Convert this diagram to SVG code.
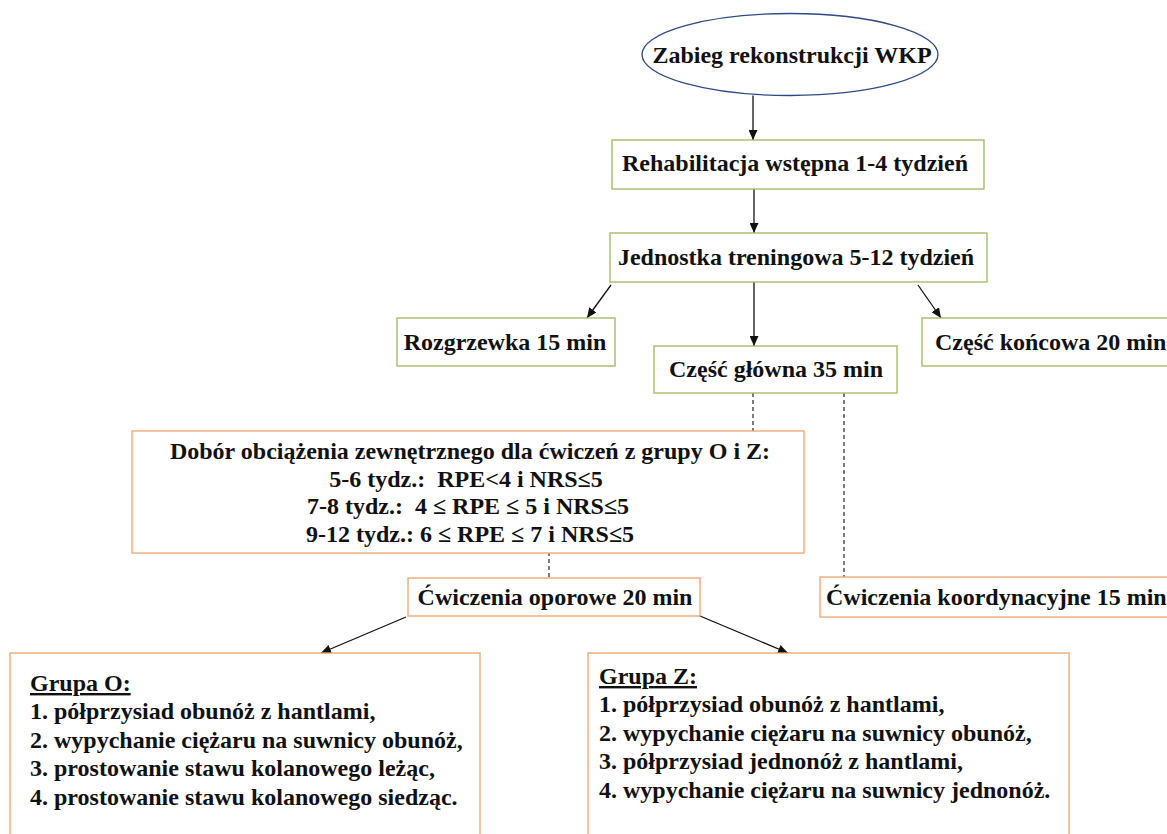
<svg xmlns="http://www.w3.org/2000/svg" width="1167" height="834" viewBox="0 0 1167 834">
<style>
text{font-family:'Liberation Serif','Tinos','Times New Roman','DejaVu Serif',serif;font-weight:bold;font-size:24px;fill:#111}
.g{fill:#fff;stroke:#9bbb59;stroke-width:1.3}
.o{fill:#fff;stroke:#eea36a;stroke-width:1.3}
.c{stroke:#111;stroke-width:1.3;fill:none}
.a{marker-end:url(#ah)}
.d{stroke-dasharray:4 3;stroke-width:1.1}
.m{text-anchor:middle}
</style>
<defs>
<marker id="ah" markerUnits="userSpaceOnUse" markerWidth="10" markerHeight="9" refX="10" refY="4.5" orient="auto">
<path d="M0,0 L10,4.5 L0,9 z" fill="#111"/>
</marker>
</defs>
<rect width="1167" height="834" fill="#fff"/>
<g id="connectors">
<line class="c a" x1="753" y1="95.5" x2="753" y2="140"/>
<line class="c a" x1="754" y1="189" x2="754" y2="233"/>
<line class="c a" x1="611" y1="285" x2="587" y2="318"/>
<line class="c a" x1="754" y1="282" x2="754" y2="346"/>
<line class="c a" x1="918" y1="285" x2="941" y2="318"/>
<line class="c d" x1="753" y1="393" x2="753" y2="431"/>
<line class="c d" x1="844" y1="393" x2="844" y2="577"/>
<line class="c d" x1="549" y1="538" x2="549" y2="578"/>
<line class="c a" x1="406" y1="617" x2="321" y2="653"/>
<line class="c a" x1="700" y1="616" x2="788" y2="653"/>
</g>
<g font-family="Liberation Serif, Tinos, Times New Roman, DejaVu Serif, serif" font-weight="bold" font-size="24">
<g id="n-start">
<ellipse cx="790" cy="54.5" rx="148" ry="41" fill="#fff" stroke="#2e4a8a" stroke-width="1.3"/>
<text class="m" x="792" y="63">Zabieg rekonstrukcji WKP</text>
</g>
<g id="n-rehab">
<rect class="g" x="612" y="140" width="372" height="49"/>
<text class="m" x="795" y="171">Rehabilitacja wstępna 1-4 tydzień</text>
</g>
<g id="n-jednostka">
<rect class="g" x="610" y="233" width="377" height="49"/>
<text class="m" x="796" y="265">Jednostka treningowa 5-12 tydzień</text>
</g>
<g id="n-rozgrzewka">
<rect class="g" x="397" y="318" width="218" height="48"/>
<text class="m" x="505" y="350">Rozgrzewka 15 min</text>
</g>
<g id="n-glowna">
<rect class="g" x="654" y="346" width="243" height="47"/>
<text class="m" x="776" y="377">Część główna 35 min</text>
</g>
<g id="n-koncowa">
<rect class="g" x="922" y="318" width="250" height="48"/>
<text x="935" y="350">Część końcowa 20 min</text>
</g>
<g id="n-dobor">
<rect class="o" x="132" y="431" width="672" height="122"/>
<text class="m" x="470" y="459">Dobór obciążenia zewnętrznego dla ćwiczeń z grupy O i Z:</text>
<text class="m" x="466" y="487">5-6 tydz.:&#160; RPE&lt;4 i NRS≤5</text>
<text class="m" x="468" y="514">7-8 tydz.:&#160; 4 ≤ RPE ≤ 5 i NRS≤5</text>
<text class="m" x="470" y="542">9-12 tydz.: 6 ≤ RPE ≤ 7 i NRS≤5</text>
</g>
<g id="n-oporowe">
<rect class="o" x="408" y="578" width="292" height="38"/>
<text class="m" x="555" y="605">Ćwiczenia oporowe 20 min</text>
</g>
<g id="n-koord">
<rect class="o" x="820" y="577" width="352" height="40"/>
<text x="826" y="605">Ćwiczenia koordynacyjne 15 min</text>
</g>
<g id="n-grupaO">
<rect class="o" x="10" y="653" width="470" height="190"/>
<text x="30" y="691" text-decoration="underline">Grupa O:</text>
<text x="30" y="719">1. półprzysiad obunóż z hantlami,</text>
<text x="30" y="748">2. wypychanie ciężaru na suwnicy obunóż,</text>
<text x="30" y="776">3. prostowanie stawu kolanowego leżąc,</text>
<text x="30" y="805">4. prostowanie stawu kolanowego siedząc.</text>
</g>
<g id="n-grupaZ">
<rect class="o" x="588" y="653" width="481" height="190"/>
<text x="599" y="684" text-decoration="underline">Grupa Z:</text>
<text x="599" y="712">1. półprzysiad obunóż z hantlami,</text>
<text x="599" y="741">2. wypychanie ciężaru na suwnicy obunóż,</text>
<text x="599" y="769">3. półprzysiad jednonóż z hantlami,</text>
<text x="599" y="798">4. wypychanie ciężaru na suwnicy jednonóż.</text>
</g>
</g>
</svg>
